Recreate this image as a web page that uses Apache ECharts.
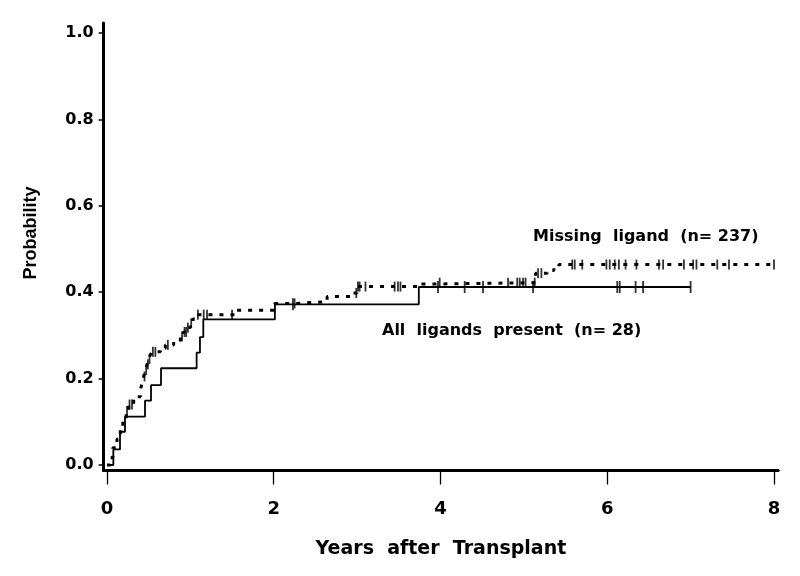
<!DOCTYPE html>
<html><head><meta charset="utf-8">
<script src="https://cdn.jsdelivr.net/npm/echarts@6/dist/echarts.min.js"></script>
<style>html,body{margin:0;padding:0;background:#fff}#chart{width:800px;height:576px}</style>
</head><body><div id="chart"></div>
<script>
// ---- data ----
const xTicks = [0, 2, 4, 6, 8];
const yTicks = [0, 0.2, 0.4, 0.6, 0.8, 1.0];

// All ligands present (n=28): event times (years) and cumulative probability after each step
const allTimes = [0, 0.076, 0.156, 0.216, 0.456, 0.528, 0.648, 1.075, 1.115, 1.155, 2.014, 3.74, 7.0];
const allProb  = [0, 0.036, 0.077, 0.112, 0.149, 0.185, 0.224, 0.260, 0.296, 0.337, 0.372, 0.412, 0.412];
const allCensor = [2.23, 3.97, 4.29, 4.51, 5.11, 6.12, 6.15, 6.34, 6.43, 7.0];

// Missing ligand (n=237)
const missTimes = [0, 0.04, 0.07, 0.12, 0.16, 0.19, 0.23, 0.26, 0.32, 0.40,
  0.42, 0.44, 0.46, 0.48, 0.50, 0.52, 0.54, 0.64, 0.70, 0.80,
  0.88, 0.92, 0.96, 1.00, 1.03, 1.06, 1.55, 2.01, 2.27, 2.64,
  2.93, 3.00, 3.74, 3.98, 5.14, 5.28, 5.36, 5.42, 8.0];
const missProb = [0, 0.017, 0.040, 0.060, 0.085, 0.105, 0.125, 0.140, 0.158, 0.174,
  0.189, 0.205, 0.220, 0.233, 0.245, 0.255, 0.262, 0.270, 0.278, 0.285,
  0.298, 0.308, 0.318, 0.328, 0.338, 0.348, 0.358, 0.374, 0.378, 0.390,
  0.398, 0.413, 0.419, 0.422, 0.444, 0.450, 0.456, 0.464, 0.464];
const missCensor = [0.24, 0.27, 0.30, 0.45, 0.47, 0.49, 0.51, 0.55, 0.58, 0.73,
  0.90, 0.93, 0.95, 0.97, 1.01, 1.09, 1.16, 1.20, 1.50, 2.25,
  2.99, 3.01, 3.03, 3.10, 3.45, 3.49, 3.52, 3.99, 4.81, 4.92,
  4.95, 4.99, 5.02, 5.13, 5.17, 5.21, 5.58, 5.61, 5.70, 5.99,
  6.03, 6.09, 6.14, 6.22, 6.35, 6.62, 6.67, 6.92, 7.03, 7.07,
  7.32, 7.46, 8.00];

const labelMissing = 'Missing  ligand  (n= 237)';
const labelAll = 'All  ligands  present  (n= 28)';
const xTitle = 'Years  after  Transplant';
const yTitle = 'Probability';

// ---- helpers ----
function stepAt(times, probs, t) {
  let v = probs[0];
  for (let i = 0; i < times.length; i++) { if (times[i] <= t) v = probs[i]; }
  return v;
}
const zip = (a, b) => a.map((v, i) => [v, b[i]]);
const censorPts = (cs, times, probs) => cs.map(t => [t, stepAt(times, probs, t)]);

const FONT = '"DejaVu Sans", "Liberation Sans", sans-serif';
const ARIAL = '"Liberation Sans", sans-serif';
const chart = echarts.init(document.getElementById('chart'), null, {renderer: 'canvas'});
chart.setOption({
  animation: false,
  backgroundColor: '#fff',
  grid: {left: 103.66, right: 21.83, top: 23, bottom: 105.5, containLabel: false},
  xAxis: {
    type: 'value', min: -0.04, max: 8.05,
    axisLine: {onZero: false, lineStyle: {color: '#000', width: 3}},
    axisTick: {customValues: xTicks, length: 14, lineStyle: {color: '#000', width: 1.3}},
    axisLabel: {customValues: xTicks, margin: 30, color: '#000', fontSize: 18, fontWeight: 'bold', fontFamily: FONT,
      formatter: v => String(v)},
    splitLine: {show: false},
    name: xTitle, nameLocation: 'middle', nameGap: 69.5,
    nameTextStyle: {color: '#000', fontSize: 19, fontWeight: 'bold', fontFamily: FONT}
  },
  yAxis: {
    type: 'value', min: -0.0127, max: 1.023,
    axisLine: {onZero: false, lineStyle: {color: '#000', width: 3}},
    axisTick: {customValues: yTicks, length: 5, lineStyle: {color: '#000', width: 1.5}},
    axisLabel: {customValues: yTicks, margin: 10, color: '#000', fontSize: 16, fontWeight: 'bold', fontFamily: FONT,
      formatter: v => v.toFixed(1)},
    splitLine: {show: false}
  },
  graphic: [
    {type: 'text', x: 31, y: 233, rotation: Math.PI / 2,
      style: {text: yTitle, fill: '#000', fontSize: 18, fontWeight: 'bold', fontFamily: ARIAL, align: 'center', verticalAlign: 'middle'}},
    {type: 'text', x: 533, y: 237,
      style: {text: labelMissing, fill: '#000', fontSize: 16, fontWeight: 'bold', fontFamily: FONT, align: 'left', verticalAlign: 'middle'}},
    {type: 'text', x: 382, y: 331,
      style: {text: labelAll, fill: '#000', fontSize: 16, fontWeight: 'bold', fontFamily: FONT, align: 'left', verticalAlign: 'middle'}}
  ],
  series: [
    {type: 'line', name: 'All ligands present', data: zip(allTimes, allProb), step: 'end',
      showSymbol: false, symbol: 'none', silent: true,
      lineStyle: {color: '#000', width: 1.8}},
    {type: 'line', name: 'Missing ligand', data: zip(missTimes, missProb), step: 'end',
      showSymbol: false, symbol: 'none', silent: true,
      lineStyle: {color: '#000', width: 3, type: [4, 7]}},
    {type: 'scatter', data: censorPts(allCensor, allTimes, allProb), symbol: 'rect', symbolSize: [1.8, 12],
      itemStyle: {color: '#000'}, silent: true},
    {type: 'scatter', data: censorPts(missCensor, missTimes, missProb), symbol: 'rect', symbolSize: [1.8, 10],
      itemStyle: {color: '#000'}, silent: true}
  ]
});
</script></body></html>
